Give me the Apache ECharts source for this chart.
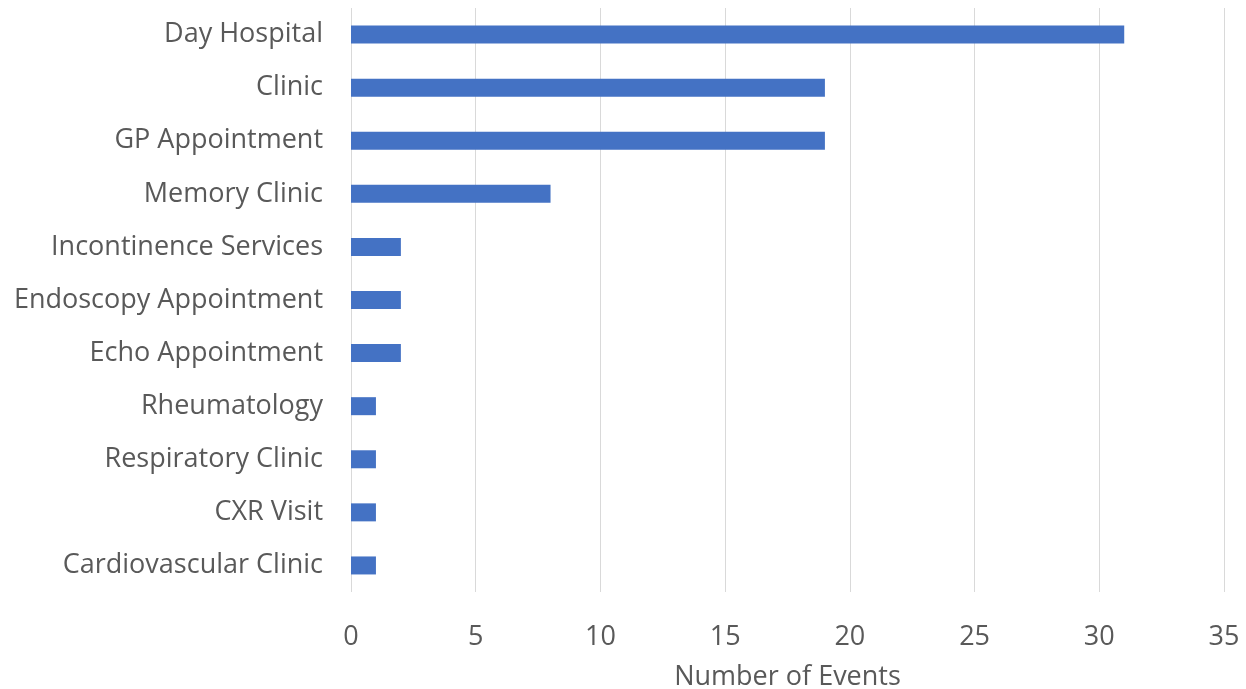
<!DOCTYPE html>
<html>
<head>
<meta charset="utf-8">
<script src="https://cdn.jsdelivr.net/npm/echarts@6/dist/echarts.min.js"></script>
<style>
  html, body { margin: 0; padding: 0; background: #fff; }
  #chart { width: 1246px; height: 689px; }
</style>
</head>
<body>
<div id="chart"></div>
<script>
var categories = ['Day Hospital', 'Clinic', 'GP Appointment', 'Memory Clinic', 'Incontinence Services',
    'Endoscopy Appointment', 'Echo Appointment', 'Rheumatology', 'Respiratory Clinic', 'CXR Visit',
    'Cardiovascular Clinic'];
var events = [31, 19, 19, 8, 2, 2, 2, 1, 1, 1, 1];
var xTicks = [0, 5, 10, 15, 20, 25, 30, 35];

var myChart = echarts.init(document.getElementById('chart'));
var textColor = '#595959';
var option = {
    animation: false,
    textStyle: { fontFamily: 'Open Sans' },
    grid: { left: 351, right: 22, top: 8, bottom: 97, outerBoundsMode: 'none' },
    xAxis: {
        type: 'value',
        min: xTicks[0],
        max: xTicks[xTicks.length - 1],
        interval: 5,
        name: 'Number of Events',
        nameLocation: 'middle',
        nameGap: 72,
        nameTextStyle: { color: textColor, fontSize: 27 },
        axisLine: { show: false },
        axisTick: { show: false },
        axisLabel: { color: textColor, fontSize: 27, margin: 32 },
        splitLine: { lineStyle: { color: '#d9d9d9', width: 1 } }
    },
    yAxis: {
        type: 'category',
        data: categories,
        inverse: true,
        axisLine: { show: false },
        axisTick: { show: false },
        axisLabel: { color: textColor, fontSize: 27, margin: 28, padding: [4, 0, 0, 0] }
    },
    series: [{
        type: 'bar',
        data: events,
        barWidth: 18,
        itemStyle: { color: '#4472c4' }
    }]
};
myChart.setOption(option);
</script>
</body>
</html>
